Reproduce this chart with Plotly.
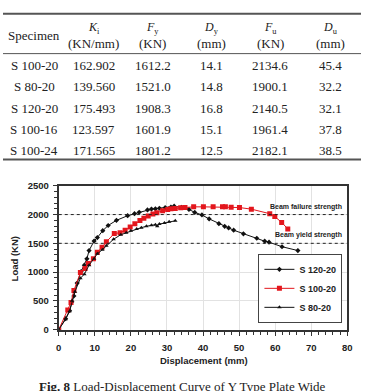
import plotly.graph_objects as go

# ---------------- data ----------------
table_cols = ["Specimen", "K_i", "F_y", "D_y", "F_u", "D_u"]
table_units = ["", "(KN/mm)", "(KN)", "(mm)", "(KN)", "(mm)"]
specimens = ["S 100-20", "S 80-20", "S 120-20", "S 100-16", "S 100-24"]
Ki = ["162.902", "139.560", "175.493", "123.597", "171.565"]
Fy = ["1612.2", "1521.0", "1908.3", "1601.9", "1801.2"]
Dy = ["14.1", "14.8", "16.8", "15.1", "12.5"]
Fu = ["2134.6", "1900.1", "2140.5", "1961.4", "2182.1"]
Du = ["45.4", "32.2", "32.1", "37.8", "38.5"]

s120_x = [0, 1.9, 3.0, 3.6, 4.2, 5.1, 6.2, 7.1, 7.8, 8.4, 9.8, 10.7, 12.2, 13.7, 16.0, 19.1,
          21.0, 22.3, 24.6, 25.7, 26.8, 27.9, 29.5, 31.1, 32.0, 34.0, 36.1, 37.7, 39.7, 41.7,
          44.4, 46.0, 47.1, 48.5, 51.2, 54.9, 57.1, 58.3, 61.9, 66.3]
s120_y = [0, 190, 330, 480, 585, 810, 1010, 1120, 1230, 1375, 1540, 1600, 1720, 1810, 1900, 1980,
          2015, 2040, 2080, 2095, 2100, 2110, 2120, 2130, 2145, 2125, 2089, 2038, 1993, 1925,
          1841, 1796, 1768, 1728, 1666, 1588, 1537, 1520, 1441, 1374]

s100_x = [0, 2.5, 3.4, 4.2, 6.0, 7.3, 8.2, 9.6, 10.7, 12.0, 13.2, 15.4, 17.0, 18.4, 19.8, 21.1,
          22.5, 23.6, 24.8, 26.1, 27.2, 28.8, 30.2, 31.1, 32.3, 33.8, 35.0, 37.4, 40.1, 42.8,
          45.4, 46.2, 47.8, 50.1, 53.4, 58.5, 59.9, 61.8, 63.5]
s100_y = [0, 343, 473, 681, 991, 1064, 1148, 1233, 1345, 1430, 1526, 1672, 1683, 1728, 1785, 1841,
          1897, 1937, 1976, 2010, 2032, 2066, 2089, 2100, 2106, 2117, 2122, 2134, 2134, 2134,
          2134, 2134, 2128, 2122, 2094, 2015, 1965, 1863, 1751]

s80_x = [0, 1.9, 3.0, 3.7, 4.5, 6.0, 7.1, 8.4, 9.8, 10.7, 12.1, 13.2, 15.2, 17.2, 18.7, 20.0,
         21.6, 22.9, 24.3, 25.7, 26.8, 27.3, 27.9, 29.3, 30.6, 32.3]
s80_y = [0, 180, 320, 500, 660, 895, 963, 1120, 1233, 1317, 1390, 1458, 1571, 1650, 1683, 1717,
         1751, 1773, 1796, 1813, 1825, 1796, 1835, 1852, 1875, 1892]

x_ticks = [0, 10, 20, 30, 40, 50, 60, 70, 80]
y_ticks = [0, 500, 1000, 1500, 2000, 2500]
ref_lines = [2000, 1500]
ref_labels = ["Beam failure strength", "Beam yield strength"]
caption_bold = "Fig. 8"
caption_rest = "Load-Displacement Curve of Y Type Plate Wide"

# ---------------- layout helpers ----------------
W, H = 366, 391
def px(x):
    return x / W
def py(y):
    return 1 - y / H

SERIF = "Liberation Serif"
SANS = "Liberation Sans"

fig = go.Figure()
fig.add_trace(go.Scatter(x=s120_x, y=s120_y, mode="lines+markers", name="S 120-20",
                         line=dict(color="#111111", width=1),
                         marker=dict(symbol="diamond", size=4, color="#111111")))
fig.add_trace(go.Scatter(x=s100_x, y=s100_y, mode="lines+markers", name="S 100-20",
                         line=dict(color="#e3161c", width=1),
                         marker=dict(symbol="square", size=5, color="#e3161c")))
fig.add_trace(go.Scatter(x=s80_x, y=s80_y, mode="lines+markers", name="S 80-20",
                         line=dict(color="#111111", width=1),
                         marker=dict(symbol="triangle-up", size=4, color="#111111")))

annotations = []
shapes = []

def ann(x, y, text, size=13, family=SERIF, xanchor="center", yanchor="middle", **kw):
    d = dict(x=px(x), y=py(y), xref="paper", yref="paper", text=text, showarrow=False,
             xanchor=xanchor, yanchor=yanchor,
             font=dict(family=family, size=size, color="#222", **kw.pop("fontkw", {})))
    d.update(kw)
    annotations.append(d)

# ---- table ----
col_x = [32, 93, 153, 213, 273, 335]
header_top = ["", "<i>K</i><sub>i</sub>", "<i>F</i><sub>y</sub>", "<i>D</i><sub>y</sub>",
              "<i>F</i><sub>u</sub>", "<i>D</i><sub>u</sub>"]
ann(col_x[0], 30, "Specimen")
for i in range(1, 6):
    ann(col_x[i], 23, header_top[i], size=12)
    ann(col_x[i], 39, table_units[i])
rows = list(zip(specimens, Ki, Fy, Dy, Fu, Du))
row_y = [61, 83, 105, 127, 149]
for r, vals in enumerate(rows):
    for c, v in enumerate(vals):
        ann(col_x[c], row_y[r], v)
for yy, w in [(8, 2), (49, 1), (158, 2)]:
    shapes.append(dict(type="line", xref="paper", yref="paper", x0=0, x1=1, y0=py(yy), y1=py(yy),
                       line=dict(color="#555", width=w)))

# ---- reference lines ----
for v, lab in zip(ref_lines, ref_labels):
    shapes.append(dict(type="line", xref="x", yref="y", x0=0, x1=80, y0=v, y1=v,
                       line=dict(color="#222", width=1, dash="dot")))
    annotations.append(dict(x=79, y=v, xref="x", yref="y", text=lab, showarrow=False,
                            xanchor="right", yanchor="bottom", yshift=2,
                            font=dict(family=SANS, size=7, color="#222", weight="bold")))

# ---- axis titles ----
ann(12, 260, "Load (KN)", size=9.5, family=SANS, textangle=-90, fontkw=dict(weight="bold"))
ann(205, 365, "Displacement (mm)", size=9.5, family=SANS, fontkw=dict(weight="bold"))

# ---- caption ----
ann(35, 382, "<b>" + caption_bold + "</b> " + caption_rest, xanchor="left", yanchor="top")

fig.update_layout(
    width=W, height=H,
    margin=dict(l=0, r=0, t=0, b=0),
    paper_bgcolor="white", plot_bgcolor="white",
    showlegend=True,
    legend=dict(x=px(347), y=py(326), xanchor="right", yanchor="bottom",
                bgcolor="white", bordercolor="#444", borderwidth=1,
                font=dict(family=SANS, size=9, color="#222", weight="bold"),
                tracegroupgap=0, itemwidth=30),
    annotations=annotations,
    shapes=shapes,
    xaxis=dict(domain=[px(57), px(352)], range=[0, 80], tickvals=x_ticks,
               showgrid=True, gridcolor="#e2e2e2", gridwidth=1, zeroline=False,
               showline=True, mirror=True, linecolor="#333", linewidth=2,
               ticks="outside", ticklen=4, tickcolor="#333", ticklabelstandoff=4,
               minor=dict(ticks="outside", ticklen=3, dtick=2, tickcolor="#333", showgrid=False),
               tickfont=dict(family=SANS, size=9.5, color="#222", weight="bold")),
    yaxis=dict(domain=[py(333), py(185)], range=[0, 2500], tickvals=y_ticks,
               showgrid=True, gridcolor="#e2e2e2", gridwidth=1, zeroline=False,
               showline=True, mirror=True, linecolor="#333", linewidth=2,
               ticks="outside", ticklen=4, tickcolor="#333", ticklabelstandoff=2,
               minor=dict(ticks="outside", ticklen=3, dtick=100, tickcolor="#333", showgrid=False),
               tickfont=dict(family=SANS, size=9.5, color="#222", weight="bold")),
)

fig.write_html("out.html")
